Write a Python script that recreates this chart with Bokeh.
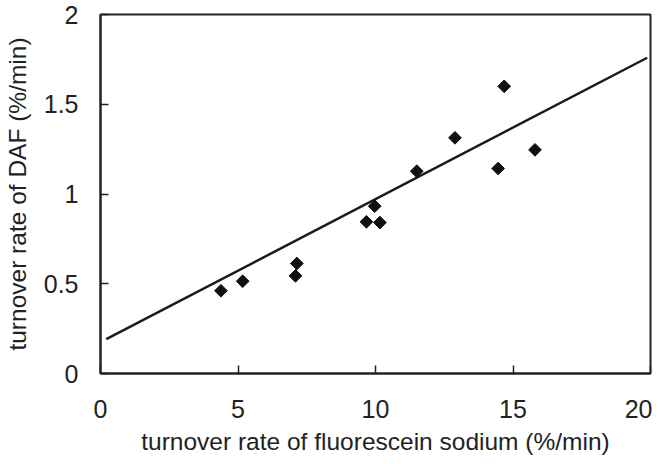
import math
from bokeh.plotting import figure
from bokeh.models import Range1d, FixedTicker
from bokeh.embed import file_html
from bokeh.resources import INLINE

# data
fluorescein_rate = [4.38, 5.17, 7.09, 7.14, 9.67, 9.97, 10.16, 11.50, 12.89, 14.46, 14.68, 15.80]
daf_rate = [0.461, 0.514, 0.544, 0.613, 0.845, 0.932, 0.841, 1.127, 1.313, 1.142, 1.600, 1.246]
fit_x = [0.21, 19.88]
fit_y = [0.191, 1.759]
x_ticks = [0, 5, 10, 15, 20]
y_ticks = [0, 0.5, 1, 1.5, 2]
x_title = "turnover rate of fluorescein sodium (%/min)"
y_title = "turnover rate of DAF (%/min)"

FONT = "Liberation Sans"

p = figure(width=649, height=448, frame_width=550, frame_height=359,
           min_border_left=97, min_border_right=2, min_border_top=14, min_border_bottom=75,
           x_range=Range1d(0, 20), y_range=Range1d(0, 2),
           output_backend="svg", toolbar_location=None)
p.grid.visible = False
p.outline_line_color = "#222222"
p.outline_line_width = 2
p.background_fill_color = "white"
p.border_fill_color = "white"

for ax in (p.xaxis[0], p.yaxis[0]):
    ax.axis_line_color = "#222222"
    ax.axis_line_width = 2
    ax.major_tick_in = 8
    ax.major_tick_out = 0
    ax.major_tick_line_color = "#222222"
    ax.major_tick_line_width = 1.5
    ax.minor_tick_line_color = None
    ax.major_label_text_font = FONT
    ax.major_label_text_font_size = "25px"
    ax.major_label_text_color = "#222222"
    ax.axis_label_text_font = FONT
    ax.axis_label_text_font_size = "24.5px"
    ax.axis_label_text_font_style = "normal"
    ax.axis_label_text_color = "#222222"

p.xaxis.ticker = FixedTicker(ticks=x_ticks)
p.yaxis.ticker = FixedTicker(ticks=y_ticks)
p.xaxis.major_label_overrides = {t: str(t) for t in x_ticks}
p.yaxis.major_label_overrides = {0: "0", 0.5: "0.5", 1: "1", 1.5: "1.5", 2: "2"}
p.xaxis.axis_label = x_title
p.yaxis.axis_label = y_title
p.xaxis.major_label_standoff = 26
p.yaxis.major_label_standoff = 22
p.xaxis.axis_label_standoff = 7
p.yaxis.axis_label_standoff = 10

p.line(fit_x, fit_y, line_color="#1a1a1a", line_width=2.5)
p.scatter(fluorescein_rate, daf_rate, marker="square", size=9, angle=math.pi / 4,
          fill_color="#111111", line_color="#111111")

open("out.html", "w").write(file_html(p, INLINE))
